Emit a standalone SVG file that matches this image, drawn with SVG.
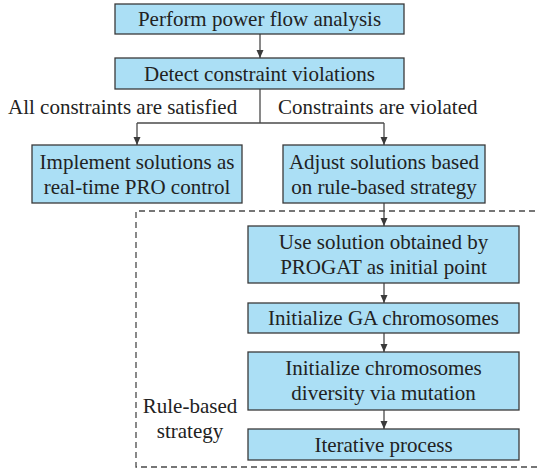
<svg xmlns="http://www.w3.org/2000/svg" width="538" height="470" viewBox="0 0 538 470">
  <style>
    .box { fill: #abdff5; stroke: #3a3a3a; stroke-width: 1.3; }
    .t { font-family: 'Liberation Serif', 'Times New Roman', serif; font-size: 21px; fill: #222; text-anchor: middle; }
    .lbl { font-family: 'Liberation Serif', 'Times New Roman', serif; font-size: 21px; fill: #222; }
    .conn { fill: none; stroke: #4a4a4a; stroke-width: 1.3; }
    .dash { fill: none; stroke: #4a4a4a; stroke-width: 1.3; stroke-dasharray: 6 4; }
  </style>
  <defs>
    <marker id="arr" viewBox="0 0 8 8" refX="8" refY="4" markerWidth="8" markerHeight="8" markerUnits="userSpaceOnUse" orient="auto">
      <path d="M0,0.5 L8,4 L0,7.5 Z" fill="#3a3a3a"/>
    </marker>
  </defs>

  <!-- Rule-based strategy region -->
  <path class="dash" d="M545,211 H136 V467 H545"/>
  <text class="t" x="190" y="413">Rule-based</text>
  <text class="t" x="190" y="438">strategy</text>

  <!-- connectors -->
  <g id="connectors">
    <line class="conn" x1="260" y1="34" x2="260" y2="58" marker-end="url(#arr)"/>
    <path class="conn" d="M260,89 V123"/>
    <path class="conn" d="M137,123 H384"/>
    <line class="conn" x1="137" y1="123" x2="137" y2="145" marker-end="url(#arr)"/>
    <line class="conn" x1="384" y1="123" x2="384" y2="145" marker-end="url(#arr)"/>
    <line class="conn" x1="384" y1="203" x2="384" y2="226" marker-end="url(#arr)"/>
    <line class="conn" x1="384" y1="283" x2="384" y2="303" marker-end="url(#arr)"/>
    <line class="conn" x1="384" y1="333" x2="384" y2="352" marker-end="url(#arr)"/>
    <line class="conn" x1="384" y1="410" x2="384" y2="429" marker-end="url(#arr)"/>
  </g>

  <!-- branch labels -->
  <text class="lbl" x="8" y="114">All constraints are satisfied</text>
  <text class="lbl" x="278" y="114">Constraints are violated</text>

  <g id="n1">
    <rect class="box" x="115" y="4" width="289" height="30"/>
    <text class="t" x="259.5" y="26">Perform power flow analysis</text>
  </g>
  <g id="n2">
    <rect class="box" x="115" y="58" width="289" height="31"/>
    <text class="t" x="259.5" y="81">Detect constraint violations</text>
  </g>
  <g id="n3">
    <rect class="box" x="32" y="145" width="210" height="58"/>
    <text class="t" x="137" y="169">Implement solutions as</text>
    <text class="t" x="137" y="194">real-time PRO control</text>
  </g>
  <g id="n4">
    <rect class="box" x="283" y="145" width="202" height="58"/>
    <text class="t" x="384" y="169">Adjust solutions based</text>
    <text class="t" x="384" y="194">on rule-based strategy</text>
  </g>
  <g id="n5">
    <rect class="box" x="248" y="226" width="271" height="57"/>
    <text class="t" x="383.5" y="249">Use solution obtained by</text>
    <text class="t" x="383.5" y="274">PROGAT as initial point</text>
  </g>
  <g id="n6">
    <rect class="box" x="248" y="303" width="271" height="30"/>
    <text class="t" x="383.5" y="325">Initialize GA chromosomes</text>
  </g>
  <g id="n7">
    <rect class="box" x="248" y="352" width="271" height="58"/>
    <text class="t" x="383.5" y="375">Initialize chromosomes</text>
    <text class="t" x="383.5" y="400">diversity via mutation</text>
  </g>
  <g id="n8">
    <rect class="box" x="248" y="429" width="271" height="31"/>
    <text class="t" x="383.5" y="452">Iterative process</text>
  </g>
</svg>
